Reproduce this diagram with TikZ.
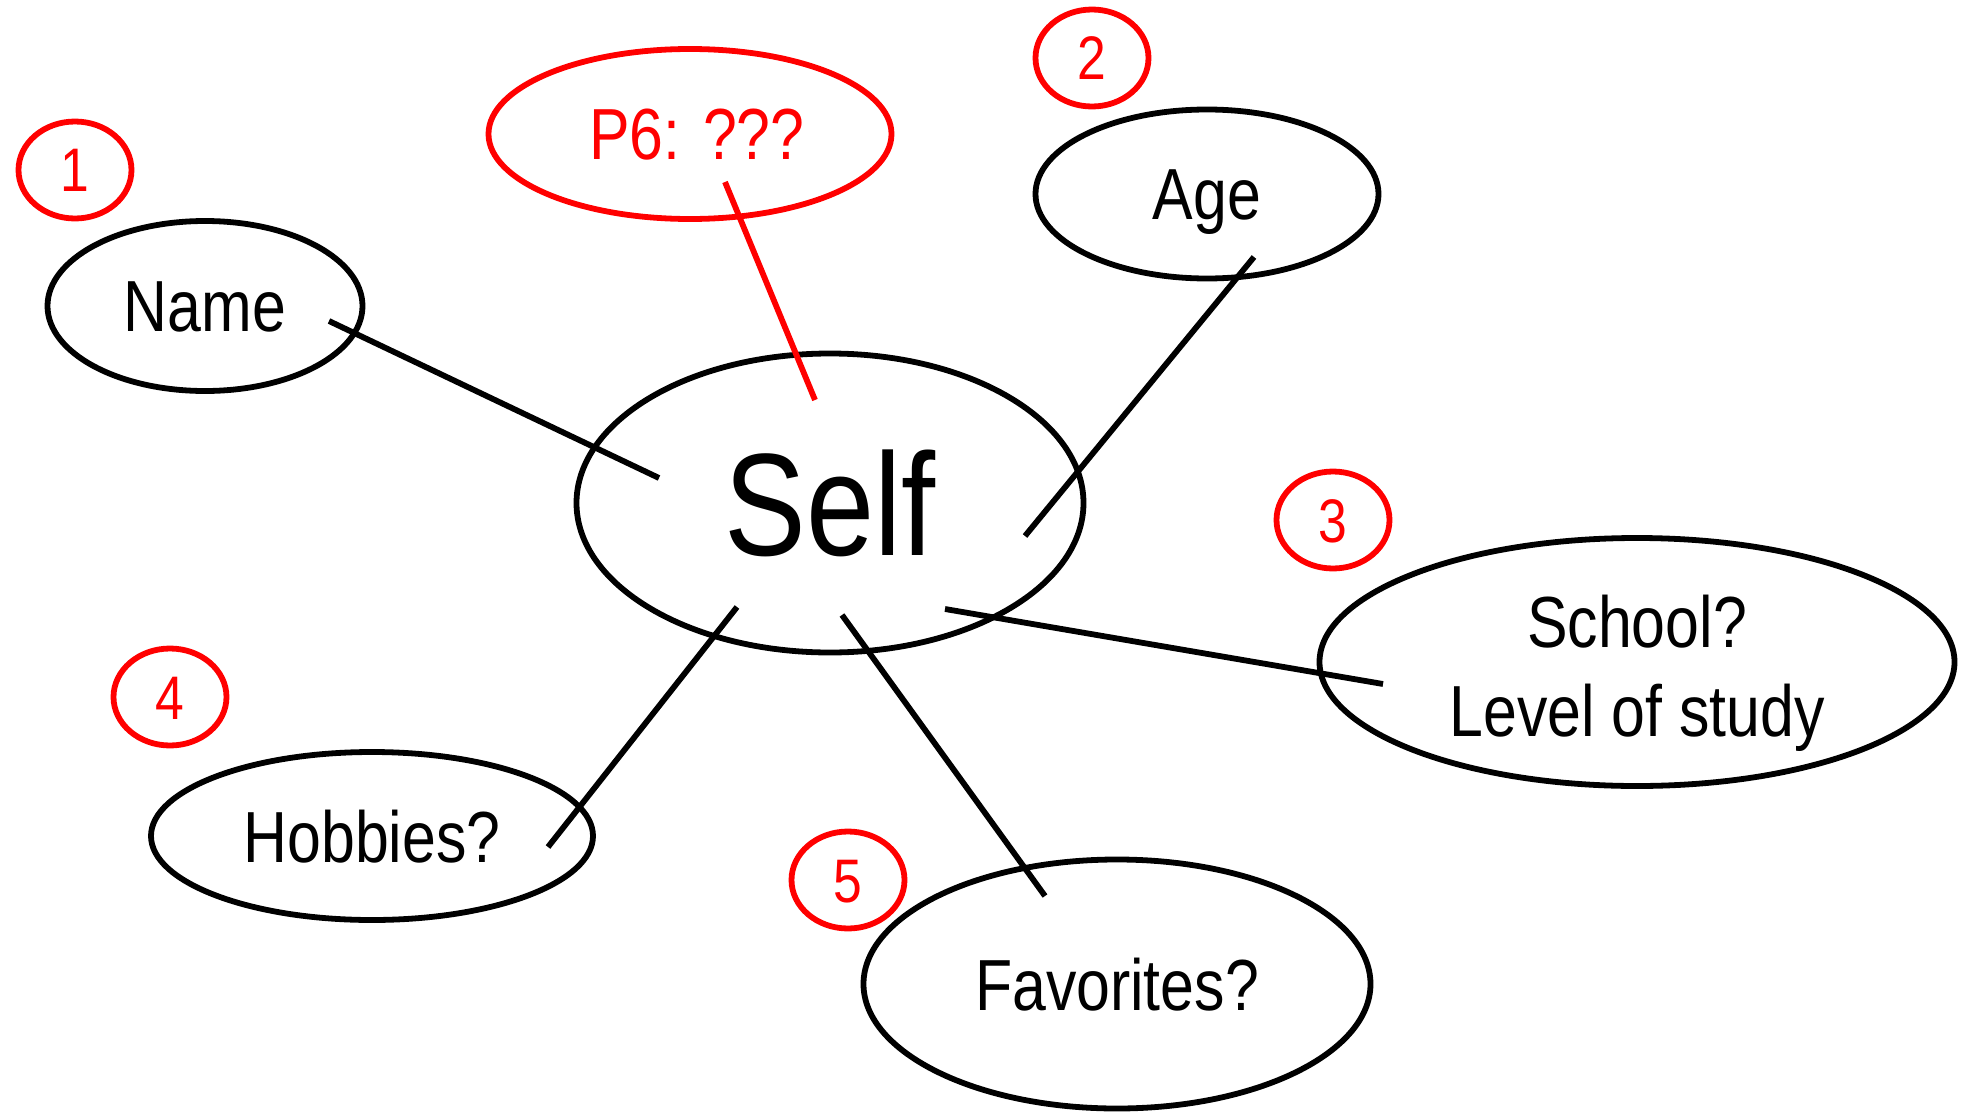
\documentclass[tikz,border=0pt]{standalone}
\usepackage{fontspec}
\setmainfont[FakeStretch=0.84]{Liberation Sans}
\usetikzlibrary{shapes.geometric}

% type sizes (1 unit of the picture = 0.02cm)
\newcommand\labelfont{\fontsize{41.2pt}{49pt}\selectfont}
\newcommand\selffont{\fontsize{83pt}{100pt}\selectfont}
\newcommand\numfont{\fontsize{35pt}{42pt}\selectfont}

\tikzset{
  oval/.style 2 args={ellipse, draw=black, line width=3.3pt,
    minimum width=#1*0.02cm, minimum height=#2*0.02cm, inner sep=0pt,
    text height=1.04cm, text depth=0pt, font=\labelfont},
  lbltext/.style={inner sep=0pt, anchor=base, font=\labelfont},
  num/.style={ellipse, draw=red, text=red, line width=3.3pt,
    minimum width=113*0.02cm, minimum height=97*0.02cm, inner sep=0pt,
    text height=0.88cm, text depth=0pt, font=\numfont},
  link/.style={draw=black, line width=3.3pt},
  redlink/.style={draw=red, line width=3.3pt}
}

\begin{document}
\begin{tikzpicture}[x=0.02cm,y=-0.02cm]
\useasboundingbox (0,0) rectangle (1968,1112);

% central topic
\node[oval={507}{299}, text height=2.1cm, font=\selffont] (self) at (830,503) {Self};

% surrounding topics
\node[oval={315}{170}] (name) at (205,306) {Name};
\node[oval={403}{170}, draw=red, text=red] (p6) at (690,134) {\hspace*{0.28cm}P6: ???};
\node[oval={343}{169}] (age) at (1207,194) {Age};
\node[oval={635}{248}] (school) at (1637,662) {};
\node[lbltext] (schoolA) at (1637,647) {School?};
\node[lbltext] (schoolB) at (1637,736) {Level of study};
\node[oval={442}{168}] (hobbies) at (372,836) {Hobbies?};
\node[oval={507}{249}] (fav) at (1117,984) {Favorites?};

% numbered markers
\node[num] (n1) at (75,170) {1};
\node[num] (n2) at (1092,58) {2};
\node[num] (n3) at (1333,520) {3};
\node[num] (n4) at (170,697) {4};
\node[num] (n5) at (848,880) {5};

% spoke end points
\coordinate (nameA) at (329,321);  \coordinate (nameB) at (659,478);
\coordinate (p6A)   at (725,182);  \coordinate (p6B)   at (815,400);
\coordinate (ageA)  at (1254,257); \coordinate (ageB)  at (1025,536);
\coordinate (schA)  at (945,609);  \coordinate (schB)  at (1383,684);
\coordinate (hobA)  at (737,607);  \coordinate (hobB)  at (548,847);
\coordinate (favA)  at (842,615);  \coordinate (favB)  at (1045,896);

% spokes
\draw[link] (nameA) -- (nameB);
\draw[redlink] (p6A) -- (p6B);
\draw[link] (ageA) -- (ageB);
\draw[link] (schA) -- (schB);
\draw[link] (hobA) -- (hobB);
\draw[link] (favA) -- (favB);
\end{tikzpicture}
\end{document}
